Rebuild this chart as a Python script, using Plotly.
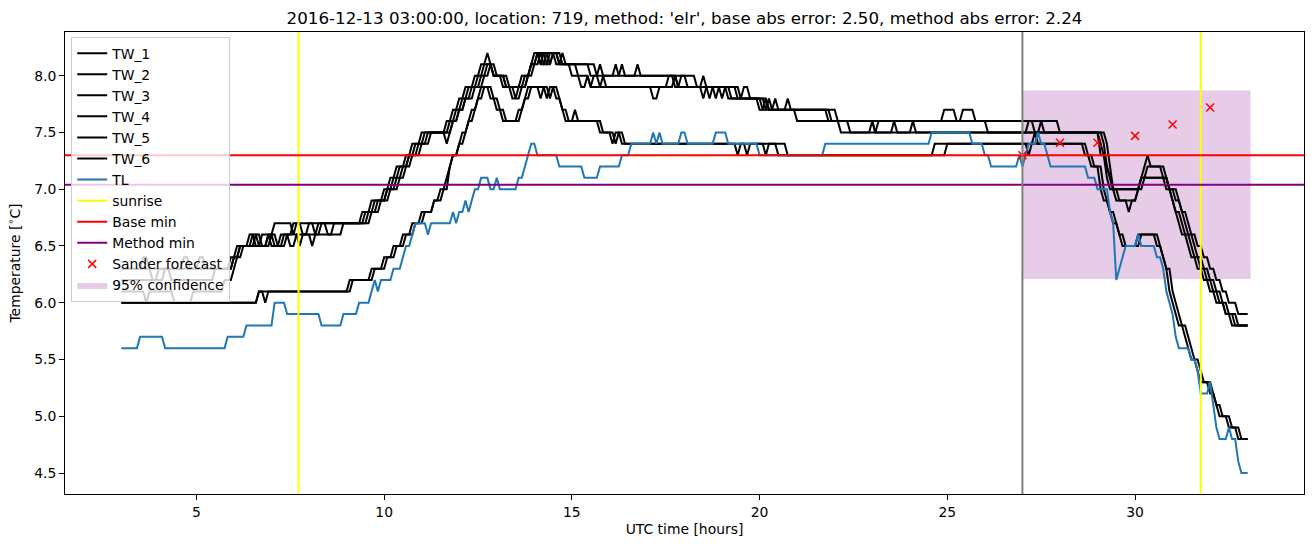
import numpy as np
import plotly.graph_objects as go

# ---------------- data (5-minute samples starting 03:00 UTC) ----------------
START_HOUR = 3.0
STEP_HOURS = 5.0 / 60.0
N_STEPS = 361

# each series: sample index where a new value starts, and that value
TW_1_IDX = [0, 7, 9, 25, 27, 35, 37, 41, 43, 45, 49, 55, 56, 62, 63, 77, 80, 84, 86, 88, 91, 93, 96,
            104, 106, 108, 110, 113, 115, 117, 118, 119, 123, 125, 128, 130, 131, 132, 134, 135, 137,
            138, 141, 150, 153, 154, 160, 161, 165, 166, 184, 186, 187, 198, 199, 201, 205, 207, 208,
            213, 214, 226, 241, 242, 263, 267, 300, 313, 314, 315, 316, 317, 326, 327, 328, 329, 333,
            335, 336, 337, 338, 339, 341, 342, 344, 346, 348, 350, 353, 356]
TW_1_VAL = [6.3, 6.4, 6.3, 6.4, 6.3, 6.4, 6.5, 6.6, 6.5, 6.6, 6.7, 6.6, 6.7, 6.6, 6.7, 6.8, 6.9, 7.0,
            7.1, 7.2, 7.3, 7.4, 7.5, 7.6, 7.7, 7.8, 7.9, 8.0, 8.1, 8.2, 8.1, 8.0, 7.9, 7.8, 7.9, 8.0,
            8.1, 8.2, 8.1, 8.2, 8.1, 8.2, 8.1, 8.0, 8.1, 8.0, 8.1, 8.0, 8.1, 8.0, 7.9, 8.0, 7.9, 7.8,
            7.9, 7.8, 7.7, 7.8, 7.7, 7.8, 7.7, 7.6, 7.5, 7.6, 7.7, 7.6, 7.5, 7.4, 7.3, 7.2, 7.1, 7.0,
            7.1, 7.2, 7.3, 7.2, 7.1, 7.0, 6.9, 6.8, 6.7, 6.6, 6.5, 6.4, 6.3, 6.2, 6.1, 6.0, 5.9, 5.8]

TW_2_IDX = [0, 10, 12, 20, 22, 36, 38, 42, 44, 47, 50, 51, 55, 58, 60, 78, 81, 85, 87, 89, 92, 94, 97,
            105, 107, 109, 111, 114, 116, 119, 122, 126, 127, 130, 131, 133, 134, 136, 140, 141, 142,
            152, 158, 159, 178, 179, 181, 190, 191, 194, 206, 216, 269, 273, 277, 290, 292, 313, 315,
            316, 318, 322, 323, 325, 326, 334, 336, 337, 339, 340, 342, 343, 345, 347, 349, 351, 353, 355]
TW_2_VAL = [6.3, 6.2, 6.3, 6.4, 6.3, 6.4, 6.5, 6.6, 6.5, 6.6, 6.5, 6.6, 6.7, 6.6, 6.7, 6.8, 6.9, 7.0,
            7.1, 7.2, 7.3, 7.4, 7.5, 7.6, 7.7, 7.8, 7.9, 8.0, 8.1, 8.0, 7.9, 7.8, 7.9, 8.0, 8.1, 8.2,
            8.1, 8.2, 8.1, 8.2, 8.1, 8.0, 8.1, 8.0, 7.9, 8.0, 7.9, 7.8, 7.9, 7.8, 7.7, 7.6, 7.7, 7.6,
            7.5, 7.6, 7.5, 7.3, 7.1, 7.0, 6.9, 6.8, 6.9, 7.0, 7.1, 7.0, 6.9, 6.8, 6.7, 6.6, 6.5, 6.4,
            6.3, 6.2, 6.1, 6.0, 5.9, 5.8]

TW_3_IDX = [0, 14, 16, 30, 36, 38, 43, 45, 48, 49, 53, 57, 58, 64, 66, 68, 79, 82, 85, 88, 90, 92, 95,
            98, 104, 105, 106, 108, 110, 112, 115, 117, 119, 123, 128, 131, 133, 135, 137, 139, 146,
            150, 151, 153, 154, 155, 170, 172, 177, 178, 186, 187, 192, 193, 197, 207, 209, 210, 227,
            230, 240, 241, 247, 248, 253, 254, 294, 295, 314, 315, 316, 317, 327, 328, 334, 335, 338,
            339, 340, 341, 343, 344, 346, 348, 350, 352, 354, 357]
TW_3_VAL = [6.2, 6.3, 6.2, 6.3, 6.4, 6.5, 6.6, 6.5, 6.6, 6.5, 6.6, 6.5, 6.6, 6.7, 6.6, 6.7, 6.8, 6.9,
            7.0, 7.1, 7.2, 7.3, 7.4, 7.5, 7.4, 7.5, 7.6, 7.7, 7.8, 7.9, 8.0, 8.1, 8.0, 7.9, 8.0, 8.1,
            8.2, 8.1, 8.2, 8.1, 8.0, 7.9, 8.0, 7.9, 8.0, 7.9, 7.8, 7.9, 8.0, 7.9, 7.8, 7.9, 7.8, 7.9,
            7.8, 7.7, 7.8, 7.7, 7.6, 7.5, 7.6, 7.5, 7.6, 7.5, 7.6, 7.5, 7.6, 7.5, 7.4, 7.2, 7.1, 7.0,
            7.1, 7.2, 7.1, 7.0, 6.9, 6.8, 6.7, 6.6, 6.5, 6.4, 6.3, 6.2, 6.1, 6.0, 5.9, 5.8]

TW_4_IDX = [0, 8, 9, 17, 23, 33, 36, 37, 39, 47, 48, 52, 54, 56, 61, 62, 71, 80, 83, 86, 89, 91, 93,
            96, 99, 106, 108, 110, 113, 116, 118, 120, 124, 129, 132, 134, 136, 138, 140, 144, 147,
            149, 150, 175, 177, 188, 189, 195, 204, 206, 207, 229, 233, 315, 316, 317, 319, 325, 326,
            335, 337, 339, 341, 342, 344, 346, 348, 350, 352, 354, 357]
TW_4_VAL = [6.1, 6.0, 6.1, 6.0, 6.1, 6.2, 6.3, 6.4, 6.5, 6.6, 6.5, 6.6, 6.5, 6.6, 6.5, 6.6, 6.7, 6.8,
            6.9, 7.0, 7.1, 7.2, 7.3, 7.4, 7.5, 7.6, 7.7, 7.8, 7.9, 8.0, 8.1, 8.0, 7.9, 8.0, 8.1, 8.2,
            8.1, 8.2, 8.1, 8.0, 7.9, 8.0, 7.9, 8.0, 7.9, 7.8, 7.9, 7.8, 7.7, 7.8, 7.7, 7.6, 7.5, 7.4,
            7.2, 7.0, 6.9, 7.0, 7.1, 7.0, 6.9, 6.8, 6.7, 6.6, 6.5, 6.4, 6.3, 6.2, 6.1, 6.0, 5.9]

TW_5_IDX = [0, 44, 46, 47, 73, 80, 84, 87, 90, 93, 96, 100, 102, 104, 105, 106, 108, 109, 111, 112,
            114, 115, 118, 120, 123, 127, 129, 130, 134, 135, 137, 138, 139, 141, 142, 145, 146, 153,
            158, 159, 161, 197, 198, 206, 207, 213, 260, 292, 293, 308, 310, 313, 314, 316, 317, 319,
            320, 325, 332, 333, 334, 335, 336, 337, 338, 340, 341, 342, 344, 345, 348, 350, 351, 354, 357]
TW_5_VAL = [6.0, 6.1, 6.0, 6.1, 6.2, 6.3, 6.4, 6.5, 6.6, 6.7, 6.8, 6.9, 7.0, 7.1, 7.2, 7.3, 7.4, 7.5,
            7.6, 7.7, 7.8, 7.9, 7.8, 7.7, 7.6, 7.7, 7.8, 7.9, 7.8, 7.9, 7.8, 7.9, 7.8, 7.7, 7.6, 7.7,
            7.6, 7.5, 7.4, 7.5, 7.4, 7.3, 7.4, 7.3, 7.4, 7.3, 7.4, 7.5, 7.4, 7.3, 7.2, 7.0, 6.9, 6.8,
            6.7, 6.6, 6.5, 6.6, 6.5, 6.4, 6.3, 6.1, 6.0, 5.9, 5.8, 5.7, 5.6, 5.5, 5.4, 5.3, 5.2, 5.1,
            5.0, 4.9, 4.8]

TW_6_IDX = [0, 44, 74, 81, 85, 88, 91, 94, 97, 100, 103, 105, 106, 108, 110, 111, 113, 114, 116, 119,
            121, 122, 128, 129, 131, 136, 137, 140, 141, 143, 154, 157, 158, 160, 200, 201, 210, 264,
            290, 291, 309, 311, 314, 315, 316, 318, 319, 321, 326, 331, 333, 334, 336, 337, 338, 339,
            341, 342, 343, 345, 346, 349, 350, 352, 355, 358]
TW_6_VAL = [6.0, 6.1, 6.2, 6.3, 6.4, 6.5, 6.6, 6.7, 6.8, 6.9, 7.0, 7.2, 7.3, 7.4, 7.5, 7.6, 7.7, 7.8,
            7.9, 7.8, 7.7, 7.6, 7.7, 7.8, 7.9, 7.8, 7.9, 7.8, 7.7, 7.6, 7.5, 7.4, 7.5, 7.4, 7.3, 7.4,
            7.3, 7.4, 7.3, 7.4, 7.3, 7.2, 7.0, 6.9, 6.8, 6.7, 6.6, 6.5, 6.6, 6.5, 6.4, 6.3, 6.1, 6.0,
            5.9, 5.8, 5.7, 5.6, 5.5, 5.4, 5.3, 5.2, 5.1, 5.0, 4.9, 4.8]

TL_IDX = [0, 6, 14, 34, 40, 49, 53, 64, 71, 76, 80, 81, 82, 83, 87, 90, 91, 93, 94, 98, 99, 106, 107,
          108, 110, 111, 112, 113, 115, 118, 120, 121, 127, 129, 130, 131, 133, 140, 148, 153, 160,
          163, 170, 171, 172, 173, 179, 181, 190, 194, 204, 225, 259, 272, 276, 278, 287, 288, 289,
          290, 293, 294, 296, 297, 309, 312, 316, 317, 318, 319, 320, 321, 325, 326, 331, 333, 334,
          335, 336, 337, 338, 342, 344, 345, 348, 349, 350, 351, 354, 355, 357, 358]
TL_VAL = [5.6, 5.7, 5.6, 5.7, 5.8, 6.0, 5.9, 5.8, 5.9, 6.0, 6.1, 6.2, 6.1, 6.2, 6.3, 6.4, 6.5, 6.6,
          6.7, 6.6, 6.7, 6.8, 6.7, 6.8, 6.9, 6.8, 6.9, 7.0, 7.1, 7.0, 7.1, 7.0, 7.1, 7.2, 7.3, 7.4,
          7.3, 7.2, 7.1, 7.2, 7.3, 7.4, 7.5, 7.4, 7.5, 7.4, 7.5, 7.4, 7.5, 7.4, 7.3, 7.4, 7.5, 7.4,
          7.3, 7.2, 7.3, 7.2, 7.3, 7.4, 7.5, 7.4, 7.3, 7.2, 7.1, 7.0, 6.8, 6.7, 6.2, 6.3, 6.4, 6.5,
          6.6, 6.5, 6.4, 6.3, 6.1, 6.0, 5.9, 5.7, 5.6, 5.5, 5.4, 5.2, 5.3, 5.1, 4.9, 4.8, 4.9, 4.8,
          4.6, 4.5]

SUNRISE_HOURS = [7.72, 31.75]
FORECAST_START_HOUR = 27.0
BASE_MIN = 7.30
METHOD_MIN = 7.04
FORECAST_HOURS = [27, 28, 29, 30, 31, 32]
FORECAST_VALUES = [7.30, 7.41, 7.41, 7.47, 7.57, 7.72]
CONF_HOURS = [27.0, 33.08]
CONF_LOW = 6.21
CONF_HIGH = 7.87

TITLE = ("2016-12-13 03:00:00, location: 719, method: 'elr', "
         "base abs error: 2.50, method abs error: 2.24")

# ---------------- helpers ----------------
def expand(idx, val):
    out = np.empty(N_STEPS)
    bounds = list(idx) + [N_STEPS]
    for k in range(len(idx)):
        out[bounds[k]:bounds[k + 1]] = val[k]
    return out

hours = START_HOUR + np.arange(N_STEPS) * STEP_HOURS

FONT = "DejaVu Sans"
FS = 13.9
fig = go.Figure()

# confidence band (drawn first, below everything)
fig.add_trace(go.Scatter(
    x=[CONF_HOURS[0], CONF_HOURS[1], CONF_HOURS[1], CONF_HOURS[0], CONF_HOURS[0]],
    y=[CONF_LOW, CONF_LOW, CONF_HIGH, CONF_HIGH, CONF_LOW],
    mode="lines", fill="toself", fillcolor="rgba(128,0,128,0.2)",
    line=dict(width=0, color="rgba(128,0,128,0)"),
    name="95% confidence", legendrank=12, hoverinfo="skip"))

tw_series = [(TW_1_IDX, TW_1_VAL), (TW_2_IDX, TW_2_VAL), (TW_3_IDX, TW_3_VAL),
             (TW_4_IDX, TW_4_VAL), (TW_5_IDX, TW_5_VAL), (TW_6_IDX, TW_6_VAL)]
for k, (idx, val) in enumerate(tw_series):
    fig.add_trace(go.Scatter(x=hours, y=expand(idx, val), mode="lines",
                             line=dict(color="black", width=2),
                             name=f"TW_{k + 1}", legendrank=k + 1))

fig.add_trace(go.Scatter(x=hours, y=expand(TL_IDX, TL_VAL), mode="lines",
                         line=dict(color="#1f77b4", width=2), name="TL", legendrank=7))

# legend-only entries for reference lines
fig.add_trace(go.Scatter(x=[None], y=[None], mode="lines", line=dict(color="yellow", width=2),
                         name="sunrise", legendrank=8))
fig.add_trace(go.Scatter(x=[None], y=[None], mode="lines", line=dict(color="red", width=2),
                         name="Base min", legendrank=9))
fig.add_trace(go.Scatter(x=[None], y=[None], mode="lines", line=dict(color="purple", width=2),
                         name="Method min", legendrank=10))

fig.add_trace(go.Scatter(x=FORECAST_HOURS, y=FORECAST_VALUES, mode="markers",
                         marker=dict(symbol="x-thin", size=8, line=dict(color="red", width=1.5)),
                         name="Sander forecast", legendrank=11))

shapes = []
for h in SUNRISE_HOURS:
    shapes.append(dict(type="line", xref="x", yref="paper", x0=h, x1=h, y0=0, y1=1,
                       line=dict(color="yellow", width=2), layer="above"))
shapes.append(dict(type="line", xref="paper", yref="y", x0=0, x1=1, y0=BASE_MIN, y1=BASE_MIN,
                   line=dict(color="red", width=2), layer="above"))
shapes.append(dict(type="line", xref="paper", yref="y", x0=0, x1=1, y0=METHOD_MIN, y1=METHOD_MIN,
                   line=dict(color="purple", width=2), layer="above"))
shapes.append(dict(type="line", xref="x", yref="paper", x0=FORECAST_START_HOUR,
                   x1=FORECAST_START_HOUR, y0=0, y1=1,
                   line=dict(color="gray", width=2), layer="above"))

fig.update_layout(
    width=1315, height=547,
    margin=dict(l=65, r=11, t=32, b=53, autoexpand=False),
    paper_bgcolor="white", plot_bgcolor="white",
    font=dict(family=FONT, size=FS, color="black"),
    title=dict(text=TITLE, x=0.5, xref="paper", xanchor="center",
               y=1 - 18 / 547, yref="container", yanchor="middle",
               font=dict(family=FONT, size=16.7, color="black")),
    shapes=shapes,
    showlegend=True,
    legend=dict(x=0.005, y=0.99, xanchor="left", yanchor="top",
                bgcolor="rgba(255,255,255,0.8)", bordercolor="#cccccc", borderwidth=1,
                font=dict(family=FONT, size=FS), itemwidth=30, tracegroupgap=0),
)
fig.update_xaxes(range=[1.5, 34.5], showgrid=False, zeroline=False, automargin=False,
                 showline=True, linecolor="black", linewidth=1, mirror=True,
                 ticks="outside", ticklen=5, tickcolor="black",
                 tickvals=[5, 10, 15, 20, 25, 30],
                 tickfont=dict(family=FONT, size=FS),
                 title=dict(text="UTC time [hours]", font=dict(family=FONT, size=FS), standoff=5))
fig.update_yaxes(range=[4.315, 8.385], showgrid=False, zeroline=False, automargin=False,
                 showline=True, linecolor="black", linewidth=1, mirror=True,
                 ticks="outside", ticklen=5, tickcolor="black",
                 tickvals=[4.5, 5.0, 5.5, 6.0, 6.5, 7.0, 7.5, 8.0], tickformat=".1f",
                 tickfont=dict(family=FONT, size=FS),
                 title=dict(text="Temperature [<sup>∘</sup>C]", font=dict(family=FONT, size=FS),
                            standoff=10))

fig.write_html("out.html", config={"displayModeBar": False},
               post_script="document.body.style.margin='0px';")
